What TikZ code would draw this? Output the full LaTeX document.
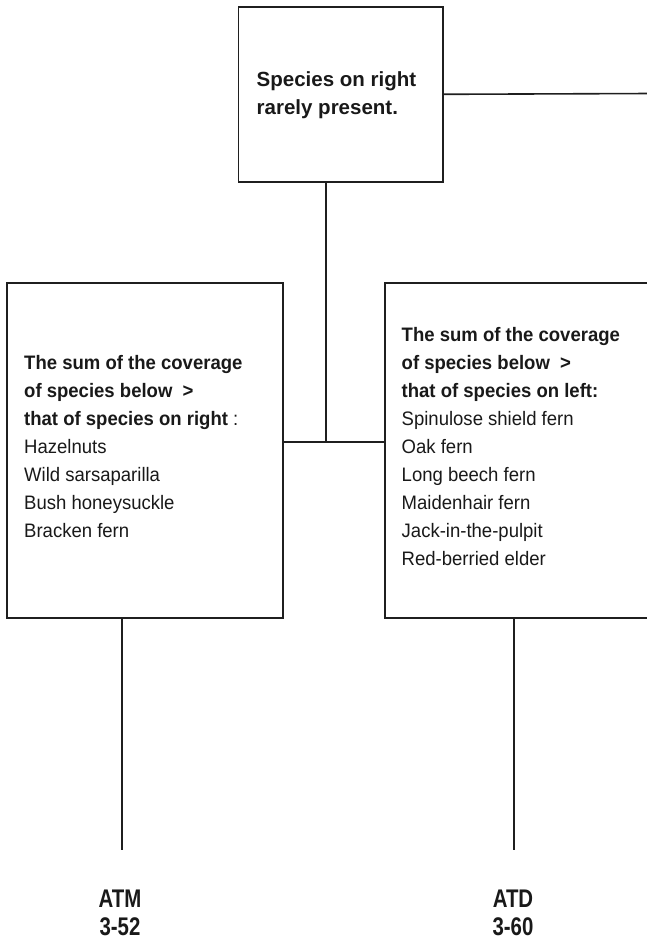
\documentclass[tikz,border=0pt]{standalone}
\usepackage{fontspec}
\setmainfont{Liberation Sans}
\newfontfamily\keyfont[FakeStretch=0.95]{Liberation Sans}
\newfontfamily\codefont[FakeStretch=0.8]{Liberation Sans}

\begin{document}
\begin{tikzpicture}[x=1pt,y=-1pt,
  box/.style={draw=black!88, line width=1.6pt, inner sep=0pt, anchor=north west},
  link/.style={draw=black!88, line width=1.6pt},
  txt/.style={inner sep=0pt, anchor=base west, text=black!90},
  code/.style={inner sep=0pt, anchor=base, text=black!90}]
\useasboundingbox (0,0) rectangle (646,941);

% key boxes
\node[box, minimum width=204.5pt, minimum height=175pt] (tbox) at (237.5,6) {};
\node[box, minimum width=276pt, minimum height=335pt] (lbox) at (6,282) {};
\node[box, minimum width=280pt, minimum height=335pt] (rbox) at (384,282) {};

% box texts
\node[txt] (ttext) at (256.5,87) {\parbox[t]{180pt}{\fontsize{20.5}{28}\selectfont\bfseries
  Species on right\\rarely present.}};
\node[txt] (ltext) at (24,369.5) {\parbox[t]{255pt}{\keyfont\fontsize{19.5}{28}\selectfont
  {\bfseries The sum of the coverage\\of species below\ \ >\\that of species on right} :\\
  Hazelnuts\\Wild sarsaparilla\\Bush honeysuckle\\Bracken fern}};
\node[txt] (rtext) at (401.5,341.7) {\parbox[t]{240pt}{\keyfont\fontsize{19.5}{28}\selectfont
  {\bfseries The sum of the coverage\\of species below\ \ >\\that of species on left:}\\
  Spinulose shield fern\\Oak fern\\Long beech fern\\Maidenhair fern\\Jack-in-the-pulpit\\Red-berried elder}};

% type codes
\node[code] (atm) at (120,907) {\parbox[t]{80pt}{\centering\codefont\fontsize{25.5}{28}\selectfont\bfseries ATM\\3-52}};
\node[code] (atd) at (513,907) {\parbox[t]{80pt}{\centering\codefont\fontsize{25.5}{28}\selectfont\bfseries ATD\\3-60}};

% connectors
\coordinate (j) at (326,442);
\coordinate (topend) at (652,93.5);
\coordinate (lend) at (122,850);
\coordinate (rend) at (514,850);
\draw[link] (tbox.south -| j) -- (j);
\draw[link] (lbox.east |- j) -- (rbox.west |- j);
\draw[link] (tbox.east) -- (topend);
\draw[link] (lbox.south -| lend) -- (lend);
\draw[link] (rbox.south -| rend) -- (rend);
\end{tikzpicture}
\end{document}
